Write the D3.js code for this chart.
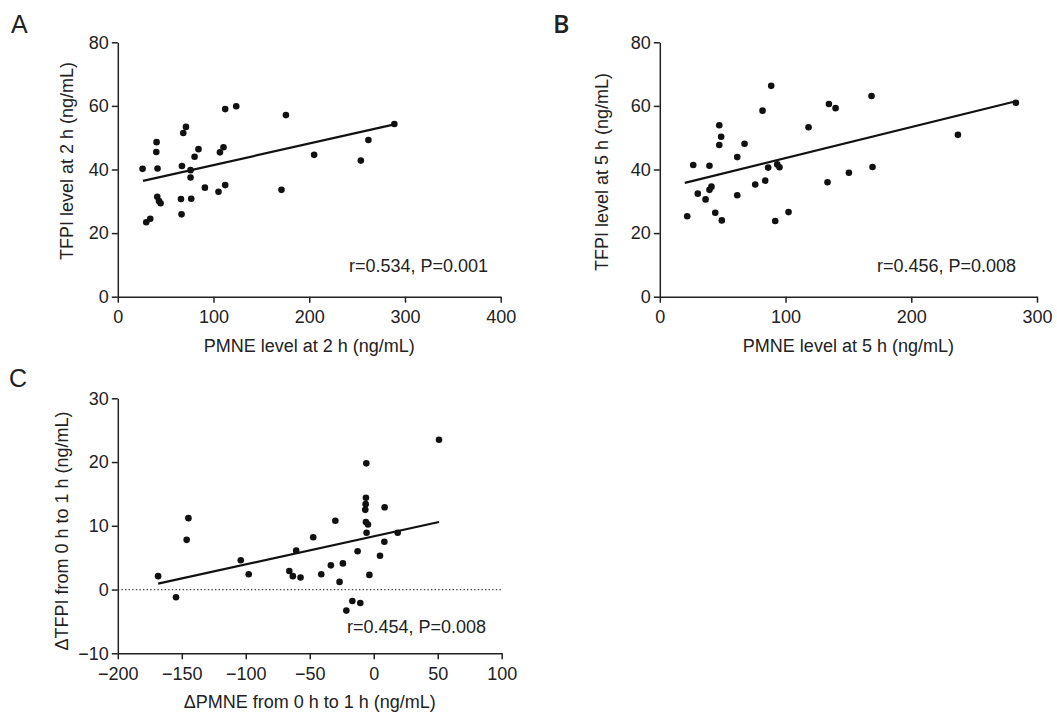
<!DOCTYPE html>
<html>
<head>
<meta charset="utf-8">
<script src="https://cdn.jsdelivr.net/npm/d3@7"></script>
<style>
  body { margin: 0; background: #fff; }
  svg { font-family: "Liberation Sans", Arial, sans-serif; }
  .axis path, .axis line { stroke: #222; stroke-width: 1.5; }
  .axis text { font-size: 18px; fill: #222; }
  .lab { font-size: 18px; fill: #222; }
</style>
</head>
<body>
<div id="chart"></div>
<script>
// panel A: PMNE vs TFPI at 2 h
const aX = [25.9, 29.7, 33.9, 40.5, 40.2, 41.5, 41.2, 43.0, 44.7, 66.6, 66.0, 67.0, 68.4, 71.2, 76.0, 76.0,
  76.7, 80.2, 84.3, 91.0, 105.2, 106.7, 110.4, 112.2, 112.2, 123.7, 171, 175.6, 205.1, 253.9, 261.8, 288.9];
const aY = [40.2, 23.4, 24.5, 48.6, 45.5, 40.3, 31.4, 30.1, 29.4, 25.9, 30.7, 41.1, 51.5, 53.4, 39.8, 37.5,
  30.8, 44.0, 46.4, 34.3, 33.0, 45.4, 47.0, 59.0, 35.1, 59.9, 33.6, 57.1, 44.6, 42.8, 49.3, 54.3];
const aFit = [[26.3, 36.4], [289, 54.2]];

// panel B: PMNE vs TFPI at 5 h
const bX = [21.8, 26.6, 30.2, 36.4, 39.5, 39.5, 41.1, 44.1, 47.3, 48.8, 47.3, 49.3, 61.6, 61.6, 67.4, 75.9, 81.7,
  83.8, 88.6, 86.2, 93.4, 95.2, 91.8, 102.4, 118.3, 133.4, 134.5, 139.8, 150.4, 168.4, 169.2, 237.1, 283.2];
const bY = [25.3, 41.4, 32.4, 30.6, 41.2, 33.6, 34.6, 26.4, 53.9, 50.3, 47.7, 24.0, 43.9, 31.9, 48.1, 35.3, 58.5,
  36.5, 66.3, 40.6, 41.6, 40.7, 23.8, 26.6, 53.3, 36.0, 60.6, 59.3, 39.0, 63.1, 40.8, 50.9, 61.0];
const bFit = [[19.9, 35.8], [281.6, 61.3]];

// panel C: change from 0 h to 1 h
const cX = [-168.5, -154.5, -144.8, -146.2, -103.9, -97.7, -66.0, -63.2, -57.2, -60.6, -47.3, -41.0, -33.5, -30.0,
  -24.1, -26.7, -21.4, -16.7, -10.5, -12.6, -5.8, -6.1, -6.3, -6.6, -6.1, -4.5, -5.6, -3.4, 4.9, 8.3, 8.5, 18.7, 51.0];
const cY = [2.1, -1.2, 11.2, 7.8, 4.6, 2.4, 2.9, 2.1, 1.9, 6.1, 8.2, 2.4, 3.8, 10.8,
  4.1, 1.2, -3.3, -1.8, -2.1, 6.0, 19.8, 14.4, 13.4, 12.5, 10.6, 10.2, 8.9, 2.3, 5.3, 7.5, 12.9, 8.9, 23.5];
const cFit = [[-168.5, 0.94], [51.0, 10.6]];

const ticksA_x = [0, 100, 200, 300, 400];
const ticksB_x = [0, 100, 200, 300];
const ticksC_x = [-200, -150, -100, -50, 0, 50, 100];
const ticksAB_y = [0, 20, 40, 60, 80];
const ticksC_y = [-10, 0, 10, 20, 30];

const width = 1057, height = 713;
const svg = d3.select("#chart").append("svg")
  .attr("width", width)
  .attr("height", height);

const fmt = d => d < 0 ? "\u2212" + Math.abs(d) : String(d);

function drawPanel(p) {
  const g = svg.append("g");
  const xScale = d3.scaleLinear().domain(p.xDomain).range(p.xRange);
  const yScale = d3.scaleLinear().domain(p.yDomain).range(p.yRange);

  if (p.zeroLine) {
    g.append("line")
      .attr("x1", xScale(p.xDomain[0]))
      .attr("x2", xScale(p.xDomain[1]))
      .attr("y1", yScale(0))
      .attr("y2", yScale(0))
      .attr("stroke", "#444")
      .attr("stroke-width", 1.3)
      .attr("stroke-dasharray", "1.4,2.2");
  }

  g.append("g")
    .attr("class", "axis")
    .attr("transform", `translate(0, ${p.yRange[0]})`)
    .call(d3.axisBottom(xScale).tickValues(p.xTicks).tickFormat(fmt).tickSize(6).tickSizeOuter(0).tickPadding(8));

  g.append("g")
    .attr("class", "axis")
    .attr("transform", `translate(${p.xRange[0]}, 0)`)
    .call(d3.axisLeft(yScale).tickValues(p.yTicks).tickFormat(fmt).tickSize(6).tickSizeOuter(0).tickPadding(3));

  g.selectAll(".domain").attr("stroke", "#222");

  const line = d3.line().x(d => xScale(d[0])).y(d => yScale(d[1]));
  g.append("path")
    .datum(p.fit)
    .attr("d", line)
    .attr("fill", "none")
    .attr("stroke", "#111")
    .attr("stroke-width", 2.2);

  g.selectAll("circle")
    .data(p.xs.map((x, i) => [x, p.ys[i]]))
    .enter()
    .append("circle")
    .attr("cx", d => xScale(d[0]))
    .attr("cy", d => yScale(d[1]))
    .attr("r", 3.3)
    .attr("fill", "#111");

  // axis titles
  g.append("text")
    .attr("class", "lab")
    .attr("x", (p.xRange[0] + p.xRange[1]) / 2)
    .attr("y", p.yRange[0] + 55)
    .attr("text-anchor", "middle")
    .text(p.xLabel);

  g.append("text")
    .attr("class", "lab")
    .attr("transform", `translate(${p.yLabelX}, ${p.yLabelY}) rotate(-90)`)
    .attr("text-anchor", "middle")
    .attr("dy", "0.35em")
    .text(p.yLabel);

  g.append("text")
    .attr("class", "lab")
    .attr("x", p.statX)
    .attr("y", p.statY)
    .text(p.stat);

  g.append("text")
    .attr("x", p.letterX)
    .attr("y", p.letterY)
    .attr("font-size", 25)
    .attr("font-family", p.letterFont || "Liberation Sans, Arial, sans-serif")
    .attr("font-weight", p.letterWeight || 400)
    .attr("fill", "#222")
    .text(p.letter);
}

drawPanel({
  xs: aX, ys: aY, fit: aFit,
  xDomain: [0, 400], xRange: [117.8, 500.7],
  yDomain: [0, 80], yRange: [296.7, 42.3],
  xTicks: ticksA_x, yTicks: ticksAB_y,
  xLabel: "PMNE level at 2 h (ng/mL)",
  yLabel: "TFPI level at 2 h (ng/mL)",
  yLabelX: 67, yLabelY: 161,
  stat: "r=0.534, P=0.001", statX: 349, statY: 272,
  letter: "A", letterX: 11, letterY: 33
});

drawPanel({
  xs: bX, ys: bY, fit: bFit,
  xDomain: [0, 300], xRange: [659.8, 1037],
  yDomain: [0, 80], yRange: [296.7, 42.3],
  xTicks: ticksB_x, yTicks: ticksAB_y,
  xLabel: "PMNE level at 5 h (ng/mL)",
  yLabel: "TFPI level at 5 h (ng/mL)",
  yLabelX: 602, yLabelY: 172,
  stat: "r=0.456, P=0.008", statX: 877, statY: 272,
  letter: "B", letterX: 553, letterY: 33,
  letterFont: "Open Sans, sans-serif", letterWeight: 600
});

drawPanel({
  xs: cX, ys: cY, fit: cFit, zeroLine: true,
  xDomain: [-200, 100], xRange: [117.8, 501.7],
  yDomain: [-10, 30], yRange: [653.3, 398.3],
  xTicks: ticksC_x, yTicks: ticksC_y,
  xLabel: "\u0394PMNE from 0 h to 1 h (ng/mL)",
  yLabel: "\u0394TFPI from 0 h to 1 h (ng/mL)",
  yLabelX: 62, yLabelY: 531,
  stat: "r=0.454, P=0.008", statX: 347, statY: 633,
  letter: "C", letterX: 9, letterY: 387
});
</script>
</body>
</html>
